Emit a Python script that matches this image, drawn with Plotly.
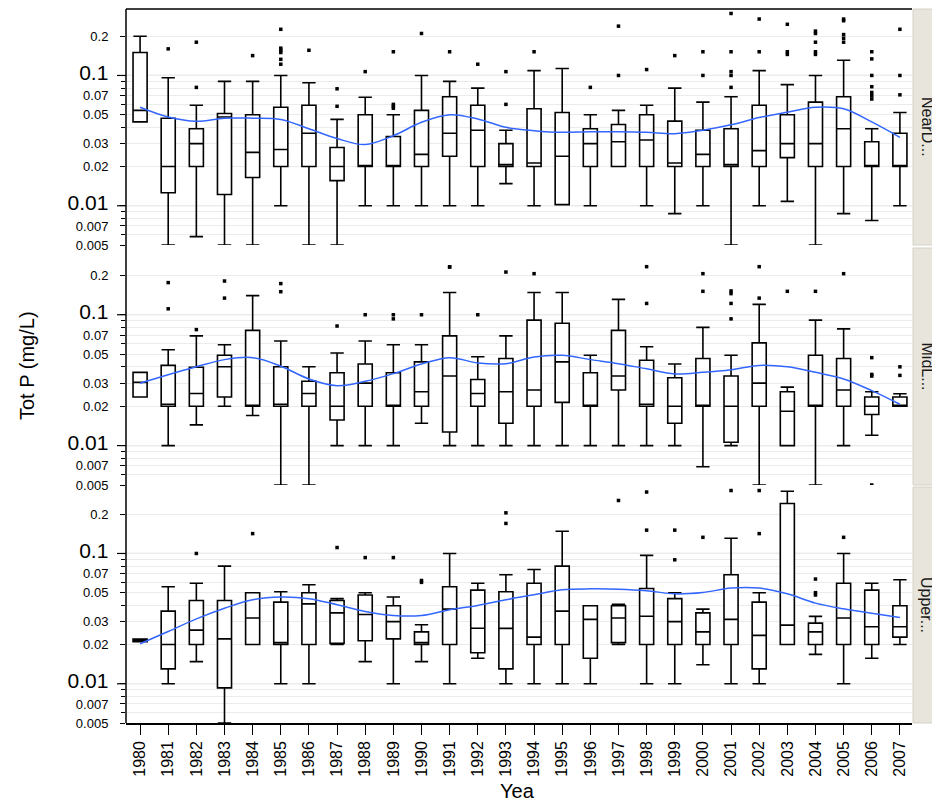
import math
import plotly.graph_objs as go

years = list(range(1980, 2008))

# tick labels for the log y axes
y_tickvals = [0.005, 0.007, 0.01, 0.02, 0.03, 0.05, 0.07, 0.1, 0.2]
y_ticktext = ['0.005', '0.007', '<span style="font-size:21px">0.01</span>', '0.02', '0.03',
              '0.05', '0.07', '<span style="font-size:21px">0.1</span>', '0.2']
y_minorvals = [0.006, 0.008, 0.009, 0.04, 0.06, 0.08, 0.09]
strip_labels = ['NearD...', 'MidL...', 'Upper...']

# NearD panel
near_lo = [0.044, 0.005, 0.0058, 0.005, 0.005, 0.01, 0.005, 0.005, 0.01, 0.01, 0.01, 0.01, 0.01, 0.0148,
           0.01, 0.0102, 0.01, 0.02, 0.01, 0.0087, 0.01, 0.005, 0.01, 0.0108, 0.005, 0.0087, 0.0077, 0.01]
near_q1 = [0.044, 0.0126, 0.02, 0.0122, 0.0165, 0.02, 0.02, 0.0156, 0.02, 0.02, 0.02, 0.024, 0.02, 0.02,
           0.02, 0.0102, 0.02, 0.02, 0.02, 0.02, 0.02, 0.02, 0.02, 0.0234, 0.02, 0.02, 0.02, 0.02]
near_med = [0.054, 0.02, 0.03, 0.048, 0.0257, 0.027, 0.036, 0.02, 0.02, 0.02, 0.0248, 0.036, 0.038, 0.0207,
            0.0213, 0.024, 0.03, 0.031, 0.032, 0.0213, 0.0248, 0.0207, 0.0265, 0.03, 0.03, 0.039, 0.02, 0.02]
near_q3 = [0.15, 0.047, 0.039, 0.051, 0.05, 0.057, 0.059, 0.028, 0.05, 0.034, 0.054, 0.0686, 0.059, 0.03,
           0.0555, 0.052, 0.039, 0.042, 0.05, 0.0446, 0.038, 0.039, 0.059, 0.05, 0.0624, 0.0686, 0.031, 0.036]
near_hi = [0.2, 0.096, 0.059, 0.09, 0.09, 0.1, 0.088, 0.046, 0.068, 0.05, 0.1, 0.09, 0.08, 0.038,
           0.109, 0.113, 0.05, 0.054, 0.059, 0.08, 0.0624, 0.0686, 0.109, 0.085, 0.1, 0.131, 0.039, 0.052]
near_out_x = [1981, 1982, 1982, 1984, 1985, 1985, 1985, 1985, 1985, 1985, 1986, 1987, 1987, 1988,
              1989, 1989, 1989, 1989, 1990, 1991, 1992, 1993, 1993, 1994, 1996, 1997, 1997, 1998,
              1999, 2000, 2000, 2001, 2001, 2001, 2001, 2001, 2002, 2002, 2003, 2003, 2003,
              2004, 2004, 2004, 2004, 2004, 2005, 2005, 2005, 2005, 2005,
              2006, 2006, 2006, 2006, 2006, 2006, 2006, 2007, 2007, 2007]
near_out_y = [0.16, 0.18, 0.081, 0.142, 0.226, 0.162, 0.156, 0.15, 0.133, 0.122, 0.156, 0.079, 0.058, 0.107,
              0.152, 0.06, 0.058, 0.056, 0.21, 0.152, 0.122, 0.107, 0.06, 0.152, 0.081, 0.239, 0.1, 0.111,
              0.142, 0.152, 0.1, 0.299, 0.152, 0.107, 0.1, 0.081, 0.271, 0.152, 0.247, 0.152, 0.145,
              0.219, 0.21, 0.18, 0.152, 0.145, 0.271, 0.263, 0.206, 0.193, 0.18,
              0.152, 0.134, 0.1, 0.082, 0.074, 0.07, 0.066, 0.226, 0.1, 0.071]
near_smooth = [0.057, 0.048, 0.0445, 0.047, 0.047, 0.046, 0.039, 0.0328, 0.0295, 0.0345, 0.0437, 0.05,
               0.0464, 0.040, 0.0377, 0.0366, 0.037, 0.037, 0.0366, 0.0357, 0.038, 0.0418, 0.0475,
               0.0523, 0.057, 0.0555, 0.044, 0.0335]

# MidL panel
mid_lo = [0.0235, 0.01, 0.0144, 0.02, 0.017, 0.005, 0.005, 0.01, 0.01, 0.01, 0.0148, 0.01, 0.01, 0.01,
          0.01, 0.01, 0.01, 0.01, 0.01, 0.01, 0.0069, 0.01, 0.005, 0.01, 0.005, 0.01, 0.012, 0.02]
mid_q1 = [0.0235, 0.02, 0.02, 0.0235, 0.02, 0.02, 0.02, 0.0157, 0.02, 0.02, 0.02, 0.0127, 0.02, 0.0148,
          0.02, 0.0214, 0.02, 0.0266, 0.02, 0.0148, 0.02, 0.0106, 0.02, 0.01, 0.02, 0.02, 0.0173, 0.02]
mid_med = [0.0304, 0.0207, 0.025, 0.04, 0.02, 0.0207, 0.025, 0.02, 0.03, 0.02, 0.0258, 0.034, 0.025, 0.0258,
           0.0266, 0.0436, 0.02, 0.034, 0.0207, 0.02, 0.02, 0.02, 0.03, 0.0183, 0.02, 0.0266, 0.02, 0.02]
mid_q3 = [0.0363, 0.041, 0.0397, 0.049, 0.076, 0.04, 0.031, 0.036, 0.042, 0.036, 0.0436, 0.069, 0.032, 0.0463,
          0.091, 0.086, 0.036, 0.076, 0.0449, 0.033, 0.0463, 0.034, 0.061, 0.0258, 0.049, 0.0463, 0.0235, 0.0235]
mid_hi = [0.0363, 0.054, 0.069, 0.059, 0.14, 0.063, 0.04, 0.051, 0.063, 0.059, 0.059, 0.148, 0.0477, 0.069,
          0.148, 0.148, 0.049, 0.131, 0.057, 0.042, 0.08, 0.049, 0.12, 0.028, 0.091, 0.078, 0.0258, 0.0249]
mid_out_x = [1981, 1981, 1982, 1983, 1983, 1985, 1985, 1987, 1988, 1989, 1989, 1990, 1991, 1991, 1992,
             1993, 1994, 1998, 1998, 2000, 2000, 2001, 2001, 2001, 2001, 2002, 2002, 2003, 2004, 2005,
             2006, 2006, 2006, 2006, 2007, 2007]
mid_out_y = [0.176, 0.111, 0.077, 0.181, 0.134, 0.173, 0.15, 0.082, 0.1, 0.1, 0.093, 0.1, 0.232, 0.232, 0.1,
             0.212, 0.206, 0.233, 0.122, 0.206, 0.151, 0.152, 0.145, 0.122, 0.093, 0.233, 0.134, 0.151, 0.151, 0.206,
             0.047, 0.035, 0.034, 0.005, 0.040, 0.0344]
mid_smooth = [0.030, 0.0348, 0.04, 0.0454, 0.047, 0.0404, 0.0323, 0.0287, 0.031, 0.0355, 0.042, 0.047,
              0.0428, 0.0423, 0.0476, 0.049, 0.0454, 0.0423, 0.0386, 0.0353, 0.0363, 0.038, 0.041, 0.040,
              0.0363, 0.0323, 0.0263, 0.0207]

# Upper panel
up_lo = [0.021, 0.01, 0.0148, 0.005, 0.02, 0.01, 0.01, 0.02, 0.0148, 0.01, 0.0148, 0.01, 0.0157, 0.01,
         0.01, 0.01, 0.01, 0.02, 0.01, 0.01, 0.014, 0.01, 0.01, 0.02, 0.0168, 0.01, 0.0157, 0.02]
up_q1 = [0.021, 0.013, 0.02, 0.0093, 0.02, 0.02, 0.02, 0.0204, 0.0214, 0.0221, 0.02, 0.02, 0.0173, 0.013,
         0.02, 0.02, 0.0157, 0.0207, 0.02, 0.02, 0.02, 0.02, 0.013, 0.02, 0.02, 0.02, 0.02, 0.0228]
up_med = [0.0215, 0.02, 0.0258, 0.0221, 0.032, 0.0207, 0.041, 0.035, 0.034, 0.030, 0.0207, 0.0374, 0.0267, 0.0266,
          0.0228, 0.0361, 0.0312, 0.032, 0.033, 0.030, 0.025, 0.0312, 0.0235, 0.0282, 0.025, 0.032, 0.0274, 0.0274]
up_q3 = [0.022, 0.0361, 0.0436, 0.0436, 0.05, 0.0423, 0.05, 0.0436, 0.048, 0.0397, 0.025, 0.0555, 0.0523, 0.0508,
         0.059, 0.08, 0.0397, 0.0397, 0.0538, 0.045, 0.035, 0.0686, 0.0423, 0.242, 0.0292, 0.059, 0.0523, 0.0397]
up_hi = [0.022, 0.0555, 0.059, 0.08, 0.05, 0.0508, 0.0575, 0.045, 0.05, 0.0463, 0.0284, 0.1, 0.059, 0.0686,
         0.0754, 0.148, 0.0397, 0.0408, 0.0966, 0.05, 0.0374, 0.131, 0.05, 0.3, 0.0329, 0.1, 0.059, 0.0628]
up_out_x = [1982, 1984, 1987, 1988, 1989, 1990, 1990, 1993, 1993, 1997, 1998, 1998, 1999, 1999, 2000,
            2001, 2002, 2002, 2004, 2004, 2004, 2005]
up_out_y = [0.1, 0.142, 0.111, 0.093, 0.093, 0.062, 0.060, 0.205, 0.170, 0.255, 0.296, 0.151, 0.151, 0.0894, 0.133,
            0.304, 0.304, 0.142, 0.0636, 0.05, 0.048, 0.133]
up_smooth = [0.0203, 0.0252, 0.0315, 0.038, 0.0441, 0.0463, 0.045, 0.0404, 0.0359, 0.0334, 0.0334, 0.037,
             0.0399, 0.0441, 0.0482, 0.0526, 0.0535, 0.0532, 0.0518, 0.049, 0.0502, 0.0542, 0.0542, 0.049,
             0.0416, 0.0376, 0.0348, 0.0323]

panels = [
    (near_lo, near_q1, near_med, near_q3, near_hi, near_out_x, near_out_y, near_smooth),
    (mid_lo, mid_q1, mid_med, mid_q3, mid_hi, mid_out_x, mid_out_y, mid_smooth),
    (up_lo, up_q1, up_med, up_q3, up_hi, up_out_x, up_out_y, up_smooth),
]

# the html page puts the figure 8px in from the top-left corner of the window
OFF = 8
W, H = 940 - OFF, 801 - OFF
L, R, T, B = 126 - OFF, 28, 9 - OFF, 78
plot_w = W - L - R
plot_h = H - T - B
# panel pixel spans (top, bottom) in window pixels
panel_px = [(9, 245), (248, 485), (487, 723)]
domains = [[1 - (b - OFF - T) / plot_h, 1 - (t - OFF - T) / plot_h] for t, b in panel_px]
domains[0][1] = 1.0
domains[2][0] = 0.0

FONT = "Liberation Sans, Arial, sans-serif"
fig = go.Figure()

for i, (lo, q1, med, q3, hi, ox, oy, sm) in enumerate(panels):
    ya = 'y' if i == 0 else f'y{i + 1}'
    fig.add_trace(go.Box(
        x=years, lowerfence=lo, q1=q1, median=med, q3=q3, upperfence=hi,
        width=0.5, whiskerwidth=0.95, boxpoints=False,
        fillcolor='white', line=dict(color='black', width=1.6),
        xaxis='x', yaxis=ya, hoverinfo='skip'
    ))
    fig.add_trace(go.Scatter(
        x=ox, y=oy, mode='markers', xaxis='x', yaxis=ya,
        marker=dict(symbol='square', size=3.5, color='black', line=dict(width=0)),
        hoverinfo='skip'
    ))
    fig.add_trace(go.Scatter(
        x=years, y=sm, mode='lines', line=dict(color='#3366FF', width=1.5, shape='spline'),
        xaxis='x', yaxis=ya, hoverinfo='skip'
    ))

yaxis_common = dict(
    type='log', range=[math.log10(0.005), -0.49],
    tickvals=y_tickvals, ticktext=y_ticktext,
    ticks='outside', ticklen=5, tickcolor='black', tickwidth=1.2,
    ticklabelstandoff=9,
    tickfont=dict(family=FONT, size=13, color='black'),
    showgrid=True, gridcolor='#ebebeb', gridwidth=1,
    minor=dict(tickvals=y_minorvals, ticks='outside', ticklen=4, tickcolor='black',
               showgrid=True, gridcolor='#ebebeb'),
    showline=False, zeroline=False, anchor='x', automargin=False,
)

layout_axes = {}
for i in range(3):
    key = 'yaxis' if i == 0 else f'yaxis{i + 1}'
    layout_axes[key] = dict(yaxis_common, domain=domains[i])

shapes = []
annotations = []
for i in range(3):
    yr = 'y' if i == 0 else f'y{i + 1}'
    # slightly darker grid at decades, with longer ticks
    for v in (0.1, 0.01):
        shapes.append(dict(type='line', xref='paper', yref=yr, x0=0, x1=1, y0=v, y1=v,
                           line=dict(color='#d9d9d9', width=1.2), layer='below'))
        shapes.append(dict(type='line', xref='paper', yref=yr, x0=-9 / plot_w, x1=0, y0=v, y1=v,
                           line=dict(color='black', width=1.2)))
    # facet strip
    d0, d1 = domains[i]
    shapes.append(dict(type='rect', xref='paper', yref='paper',
                       x0=1 + 1 / plot_w, x1=1 + (R + 2) / plot_w, y0=d0, y1=d1,
                       fillcolor='#e8e6dc', line=dict(color='#d4d2c8', width=1)))
    annotations.append(dict(text=strip_labels[i], textangle=90, xref='paper', yref='paper',
                            x=1 + 15 / plot_w, y=(d0 + d1) / 2, showarrow=False,
                            font=dict(family=FONT, size=16, color='#1a1a1a'),
                            xanchor='center', yanchor='middle'))

# frame: top border and continuous left axis
shapes.append(dict(type='line', xref='paper', yref='paper', x0=0, x1=1, y0=1, y1=1,
                   line=dict(color='black', width=1.5)))
shapes.append(dict(type='line', xref='paper', yref='paper', x0=0, x1=0, y0=0, y1=1,
                   line=dict(color='black', width=1.5)))

annotations.append(dict(text='Tot P (mg/L)', textangle=-90, xref='paper', yref='paper',
                        x=(27 - OFF - L) / plot_w, y=1 - (366 - OFF - T) / plot_h, showarrow=False,
                        font=dict(family=FONT, size=20, color='black'),
                        xanchor='center', yanchor='middle'))
annotations.append(dict(text='Yea', xref='paper', yref='paper',
                        x=(517 - OFF - L) / plot_w, y=-(791 - 723) / plot_h, showarrow=False,
                        font=dict(family=FONT, size=20, color='black'),
                        xanchor='center', yanchor='middle'))

fig.update_layout(
    width=W, height=H,
    margin=dict(l=L, r=R, t=T, b=B, autoexpand=False),
    paper_bgcolor='white', plot_bgcolor='white',
    showlegend=False,
    boxmode='overlay',
    xaxis=dict(
        domain=[0, 1], anchor='y3', range=[1979.5, 2007.43],
        tickvals=years, ticktext=[str(y) for y in years], tickangle=-90,
        ticks='outside', ticklen=10, tickcolor='black', tickwidth=1.2,
        tickfont=dict(family=FONT, size=16, color='black'),
        showline=True, linecolor='black', linewidth=1.5,
        showgrid=False, zeroline=False, automargin=False,
    ),
    shapes=shapes,
    annotations=annotations,
    **layout_axes,
)

fig.write_html("out.html")
